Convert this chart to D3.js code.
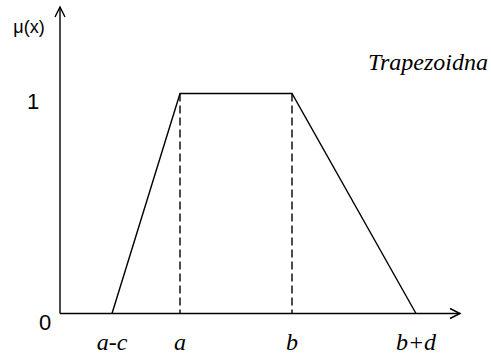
<!DOCTYPE html>
<html>
<head>
<meta charset="utf-8">
<script src="https://cdn.jsdelivr.net/npm/d3@7"></script>
<style>
  body { margin: 0; background: #fff; }
</style>
</head>
<body>
<div id="chart"></div>
<script>
// points of the trapezoid (x in arbitrary units, y = membership)
const pointLabels = ["a-c", "a", "b", "b+d"];
const pointX = [52, 120, 232, 356];
const pointY = [0, 1, 1, 0];
const yTicks = [0, 1];
const title = "Trapezoidna";

const serif = "'Liberation Serif', serif";
const sans = "'Liberation Sans', sans-serif";

const W = 491, H = 356;
const svg = d3.select("#chart").append("svg")
  .attr("width", W).attr("height", H);

const x = d3.scaleLinear().domain([0, 400]).range([60, 460]);
const y = d3.scaleLinear().domain([0, 1]).range([313.5, 93.5]);

const sw = 1.4;

// axes
svg.append("line")
  .attr("x1", x(0)).attr("x2", x(400))
  .attr("y1", y(0)).attr("y2", y(0))
  .attr("stroke", "#000").attr("stroke-width", sw);
svg.append("line")
  .attr("x1", x(0)).attr("x2", x(0))
  .attr("y1", y(0)).attr("y2", 7)
  .attr("stroke", "#000").attr("stroke-width", sw);

// arrow heads
svg.append("path")
  .attr("d", `M${x(400) - 10},${y(0) - 5} L${x(400)},${y(0)} L${x(400) - 10},${y(0) + 5}`)
  .attr("fill", "none").attr("stroke", "#000").attr("stroke-width", sw);
svg.append("path")
  .attr("d", `M${x(0) - 5},17 L${x(0)},7 L${x(0) + 5},17`)
  .attr("fill", "none").attr("stroke", "#000").attr("stroke-width", sw);

// trapezoid
const pts = pointX.map((d, i) => [d, pointY[i]]);
svg.append("path")
  .datum(pts)
  .attr("d", d3.line().x(d => x(d[0])).y(d => y(d[1])))
  .attr("fill", "none").attr("stroke", "#000").attr("stroke-width", sw);

// dashed drop lines
svg.selectAll(".drop")
  .data(pts.filter(d => d[1] === 1))
  .join("line")
  .attr("x1", d => x(d[0])).attr("x2", d => x(d[0]))
  .attr("y1", d => y(d[1])).attr("y2", y(0))
  .attr("stroke", "#000").attr("stroke-width", sw)
  .attr("stroke-dasharray", "8,4");

// x labels
svg.selectAll(".xl")
  .data(pointLabels)
  .join("text")
  .attr("x", (d, i) => x(pointX[i]))
  .attr("y", 350)
  .attr("text-anchor", "middle")
  .attr("font-family", serif)
  .attr("font-style", "italic")
  .attr("font-size", "24px")
  .text(d => d);

// y labels
svg.selectAll(".yl")
  .data(yTicks)
  .join("text")
  .attr("x", d => d === 0 ? 45 : 33)
  .attr("y", d => d === 0 ? 330 : 109)
  .attr("text-anchor", "middle")
  .attr("font-family", sans)
  .attr("font-size", "22px")
  .text(d => d);

svg.append("text")
  .attr("x", 29).attr("y", 33)
  .attr("text-anchor", "middle")
  .attr("font-family", sans)
  .attr("font-size", "18px")
  .text("μ(x)");

svg.append("text")
  .attr("x", 368).attr("y", 70)
  .attr("font-family", serif)
  .attr("font-style", "italic")
  .attr("font-size", "24px")
  .text(title);
</script>
</body>
</html>
